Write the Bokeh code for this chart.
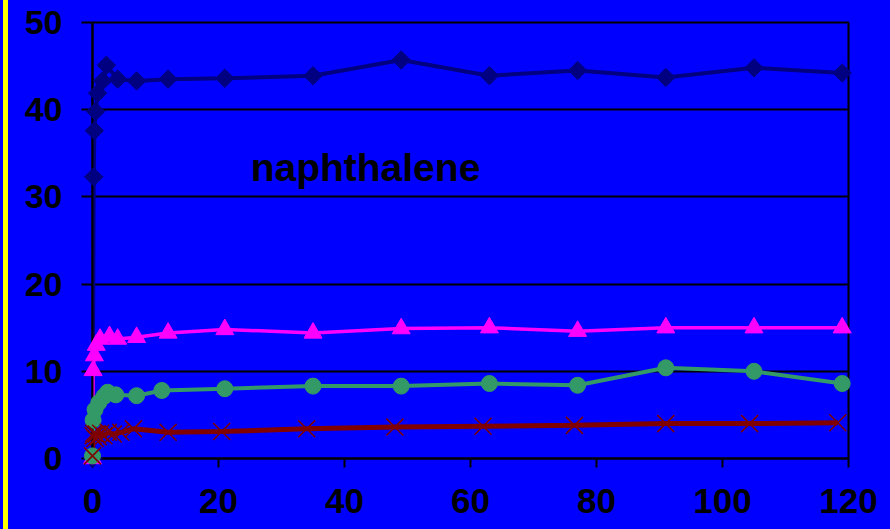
import numpy as np
from bokeh.plotting import figure
from bokeh.models import Range1d, FixedTicker, Label
from bokeh.embed import file_html
from bokeh.resources import INLINE

# ---- data ----
navy_t = [0, 0.2, 0.3, 0.5, 0.8, 1.6, 2.2, 4, 7, 12, 21, 35, 49, 63, 77, 91, 105, 119]
navy_y = [0, 32.3, 37.6, 39.8, 41.9, 43.3, 45.1, 43.5, 43.3, 43.5, 43.6, 43.9, 45.7, 43.9, 44.5, 43.7, 44.8, 44.2]

pink_t = [0, 0.1, 0.3, 0.6, 1.2, 2.7, 4, 7, 12, 21, 35, 49, 63, 77, 91, 105, 119]
pink_y = [0, 10.1, 11.8, 13.0, 13.7, 14.0, 13.7, 13.9, 14.4, 14.8, 14.4, 14.9, 15.0, 14.6, 15.0, 15.0, 15.0]

green_t = [0, 0.1, 0.4, 1.0, 1.8, 2.4, 3.7, 7, 11, 21, 35, 49, 63, 77, 91, 105, 119]
green_y = [0.3, 4.4, 5.6, 6.4, 7.1, 7.6, 7.3, 7.2, 7.8, 8.0, 8.3, 8.3, 8.6, 8.4, 10.4, 10.0, 8.6]

red_t = [0, 0.1, 0.2, 0.4, 0.6, 0.9, 1.3, 1.8, 2.5, 3.3, 4.5, 6.5, 12, 20.5, 34, 48, 62, 76.5, 91, 104.3, 118.3]
red_y = [0.3, 2.6, 2.9, 2.3, 2.8, 2.5, 2.9, 2.6, 3.0, 2.8, 3.0, 3.4, 3.0, 3.1, 3.4, 3.6, 3.7, 3.8, 4.0, 4.0, 4.1]

x_ticks = [0, 20, 40, 60, 80, 100, 120]
y_ticks = [0, 10, 20, 30, 40, 50]
label_text = "naphthalene"

BLUE = "#0000FF"
FONT = "Liberation Sans"

p = figure(width=890, height=529, output_backend="svg", toolbar_location=None,
           x_range=Range1d(0, 120), y_range=Range1d(0, 50),
           min_border_left=92, min_border_right=42, min_border_top=22,
           min_border_bottom=71)
p.background_fill_color = BLUE
p.border_fill_color = None   # page background (blue with yellow edge strip) shows through
p.outline_line_color = "black"
p.outline_line_width = 2

p.xgrid.visible = False
p.ygrid.grid_line_color = "black"
p.ygrid.grid_line_width = 2
p.ygrid.ticker = FixedTicker(ticks=y_ticks)

for ax in (p.xaxis[0], p.yaxis[0]):
    ax.axis_line_color = "black"
    ax.axis_line_width = 2
    ax.major_tick_line_color = "black"
    ax.major_tick_line_width = 2
    ax.major_tick_in = 0
    ax.minor_tick_line_color = None
    ax.major_label_text_font = FONT
    ax.major_label_text_font_style = "bold"
    ax.major_label_text_color = "black"

p.xaxis.major_label_text_font_size = "35px"
p.yaxis.major_label_text_font_size = "34px"
p.xaxis.ticker = FixedTicker(ticks=x_ticks)
p.yaxis.ticker = FixedTicker(ticks=y_ticks)
p.xaxis.major_tick_out = 9
p.yaxis.major_tick_out = 11
p.xaxis.major_label_standoff = 21
p.yaxis.major_label_standoff = 19

# series: lines first, then markers drawn on top (over the axes, unclipped if possible)
p.line(navy_t, navy_y, line_color="#000080", line_width=4)
p.line(pink_t, pink_y, line_color="#FF00FF", line_width=3.5)
p.line(green_t, green_y, line_color="#339966", line_width=4)
p.line(red_t, red_y, line_color="#800000", line_width=5)

p.scatter(navy_t, navy_y, marker="square", angle=np.pi / 4, size=13,
          fill_color="#000080", line_color="#000080", level="overlay")
p.scatter(pink_t, pink_y, marker="triangle", size=18,
          fill_color="#FF00FF", line_color="#FF00FF", level="overlay")
p.scatter(green_t, green_y, marker="circle", size=16,
          fill_color="#339966", line_color="#339966", level="overlay")
p.scatter(red_t, red_y, marker="x", size=24, line_color="#800000",
          line_width=1.5, level="overlay")

p.add_layout(Label(x=25.1, y=33.4, text=label_text, text_font=FONT,
                   text_font_style="bold", text_font_size="39px",
                   text_color="black", text_baseline="alphabetic"))

template = """
{% block postamble %}
<style>
html { background: linear-gradient(to right, #0000FF 0px, #0000FF 3px, #FFFF00 3px, #FFFF00 8px, #0000FF 8px); }
body { background: transparent; }
</style>
{% endblock %}
"""

open("out.html", "w").write(file_html(p, INLINE, template=template))
